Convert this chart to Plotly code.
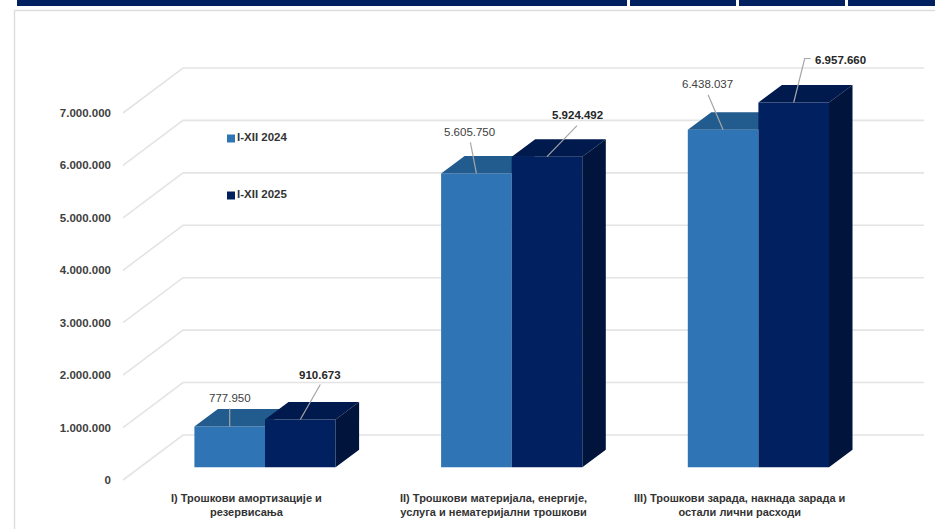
import plotly.graph_objects as go

# Cost categories and yearly totals
categories = [
    "I) Трошкови амортизације и<br>резервисања",
    "II) Трошкови материјала, енергије,<br>услуга и нематеријални трошкови",
    "III) Трошкови зарада, накнада зарада и<br>остали лични расходи",
]
series_2024 = [777950, 5605750, 6438037]
series_2025 = [910673, 5924492, 6957660]
name_2024 = "I-XII 2024"
name_2025 = "I-XII 2025"
tick_values = [0, 1000000, 2000000, 3000000, 4000000, 5000000, 6000000, 7000000]
tick_labels = ["0", "1.000.000", "2.000.000", "3.000.000", "4.000.000", "5.000.000", "6.000.000", "7.000.000"]

# Canvas and projection of the pseudo-3D scene
W, H = 935, 529
PX_PER_VALUE = 52.43 / 1e6
PX_PER_CAT = 246.7
GROUP0_PX = 265.0
FRONT_ZERO_PX = 467.3
WALL_ZERO_PX = 480.0
BAR_PX = 70.6


def cat_dx(px):
    return px / PX_PER_CAT


def val_dy(px):
    return px / PX_PER_VALUE


def x_at(px):
    return (px - GROUP0_PX) / PX_PER_CAT


BAR_W = cat_dx(BAR_PX)
DEPTH_X = cat_dx(23.5)
DEPTH_Y = val_dy(17.5)

COL_2024, COL_2024_TOP = "#2f75b5", "#225b8e"
COL_2025, COL_2025_TOP, COL_2025_SIDE = "#00205f", "#001a4e", "#00143c"
GRID = "#e4e4e4"
LEADER = "#a6a6a6"
FONT = "Liberation Sans"

fig = go.Figure()

# Back wall gridlines: diagonal from the floor front edge, then across the wall
wall_x0, wall_x1, wall_x2 = x_at(123), x_at(183), x_at(924)
wall_rise = val_dy(45)
grid_x, grid_y = [], []
for v in tick_values:
    grid_x += [wall_x0, wall_x1, wall_x2, None]
    grid_y += [v, v + wall_rise, v + wall_rise, None]
fig.add_trace(go.Scatter(x=grid_x, y=grid_y, mode="lines", yaxis="y",
                         line=dict(color=GRID, width=1.6), hoverinfo="skip", showlegend=False))

positions = list(range(len(categories)))


def top_face(cx, v, fill, axis):
    xs = [cx, cx + BAR_W, cx + BAR_W + DEPTH_X, cx + DEPTH_X, cx]
    ys = [v, v, v + DEPTH_Y, v + DEPTH_Y, v]
    return go.Scatter(x=xs, y=ys, fill="toself", fillcolor=fill, mode="lines", line=dict(width=0),
                      yaxis=axis, hoverinfo="skip", showlegend=False)


def side_face(cx, v, fill, axis):
    r = cx + BAR_W
    xs = [r, r + DEPTH_X, r + DEPTH_X, r, r]
    ys = [0, DEPTH_Y, v + DEPTH_Y, v, 0]
    return go.Scatter(x=xs, y=ys, fill="toself", fillcolor=fill, mode="lines", line=dict(width=0),
                      yaxis=axis, hoverinfo="skip", showlegend=False)


# 2024 bars sit on their own overlay so the 2025 bars can cover them
fig.add_trace(go.Bar(x=positions, y=series_2024, width=BAR_W, offset=-BAR_W, marker=dict(color=COL_2024, line=dict(width=0)),
                     yaxis="y2", showlegend=False, name=name_2024))
for i, v in enumerate(series_2024):
    fig.add_trace(top_face(i - BAR_W, v, COL_2024_TOP, "y2"))

fig.add_trace(go.Bar(x=positions, y=series_2025, width=BAR_W, offset=0, marker=dict(color=COL_2025, line=dict(width=0)),
                     yaxis="y3", showlegend=False, name=name_2025))
for i, v in enumerate(series_2025):
    fig.add_trace(top_face(i, v, COL_2025_TOP, "y3"))
    fig.add_trace(side_face(i, v, COL_2025_SIDE, "y3"))

# Leader lines and value labels; paths are pixel offsets from the middle of each bar's top edge
leaders_2024 = [[(0, -18)], [(-6, -31)], [(-15, -35)]]
labels_2024 = [(0, -29), (-7, -41), (-16, -46)]
leaders_2025 = [[(20, -35)], [(30, -31)], [(11, -44), (17, -44)]]
labels_2025 = [(20, -45), (30, -42), (47, -43)]


def fmt(v):
    return f"{v:,}".replace(",", ".")


def add_labels(values, centre, leaders, labels, axis, color, weight):
    for i, v in enumerate(values):
        cx = i + centre
        path = [(0, 0)] + leaders[i]
        fig.add_trace(go.Scatter(x=[cx + cat_dx(p[0]) for p in path],
                                 y=[v - val_dy(p[1]) for p in path],
                                 mode="lines", line=dict(color=LEADER, width=1.2),
                                 yaxis=axis, hoverinfo="skip", showlegend=False))
        fig.add_annotation(x=cx, y=v, xref="x", yref=axis, text=fmt(v), showarrow=False,
                           xshift=labels[i][0], yshift=-labels[i][1],
                           font=dict(family=FONT, size=11.5, color=color, weight=weight))


add_labels(series_2024, -BAR_W / 2, leaders_2024, labels_2024, "y2", "#404040", 400)
add_labels(series_2025, BAR_W / 2, leaders_2025, labels_2025, "y3", "#262626", 700)

# Category captions under each group
for i, c in enumerate(categories):
    fig.add_annotation(x=i, y=1 - 504.5 / H, xref="x", yref="paper", yanchor="middle", text=c, showarrow=False,
                       xshift=-18.5, align="center",
                       font=dict(family=FONT, size=11, color="#333333", weight=700))

# Key placed inside the plot area
for name, color, py in ((name_2024, COL_2024, 138.5), (name_2025, COL_2025, 195.5)):
    fig.add_trace(go.Scatter(x=[x_at(231)], y=[(FRONT_ZERO_PX - py) / PX_PER_VALUE], mode="markers+text",
                             marker=dict(symbol="square", size=8, color=color), text=[name],
                             textposition="middle right",
                             textfont=dict(family=FONT, size=11.5, color="#333333", weight=700),
                             yaxis="y3", hoverinfo="skip", showlegend=False))

# Page frame: header strip and panel border
header = [(17, 627), (630, 736), (739, 845), (848, 935)]
shapes = [dict(type="rect", xref="paper", yref="paper", x0=a / W, x1=b / W, y0=1 - 6 / H, y1=1,
               fillcolor="#002060", line=dict(width=0)) for a, b in header]
shapes.append(dict(type="path", xref="paper", yref="paper",
                   path=f"M {14.5 / W} 0 L {14.5 / W} {1 - 10.5 / H} L 1 {1 - 10.5 / H}",
                   line=dict(color="#dddddd", width=1.4)))

x_range = [x_at(0), x_at(W)]


def y_range(zero_px):
    return [(zero_px - H) / PX_PER_VALUE, zero_px / PX_PER_VALUE]


fig.update_layout(
    width=W, height=H, margin=dict(l=0, r=0, t=0, b=0),
    paper_bgcolor="white", plot_bgcolor="white", showlegend=False, barmode="overlay",
    shapes=shapes,
    xaxis=dict(range=x_range, domain=[0, 1], visible=False, fixedrange=True),
    yaxis=dict(range=y_range(WALL_ZERO_PX), domain=[0, 1], anchor="free", position=111 / W,
               tickvals=tick_values, ticktext=tick_labels, showgrid=False, zeroline=False, showline=False,
               ticks="", fixedrange=True,
               tickfont=dict(family=FONT, size=11.5, color="#404040", weight=700)),
    yaxis2=dict(range=y_range(FRONT_ZERO_PX), overlaying="y", visible=False, fixedrange=True),
    yaxis3=dict(range=y_range(FRONT_ZERO_PX), overlaying="y", visible=False, fixedrange=True),
)

fig.write_html("out.html", config=dict(displayModeBar=False))
